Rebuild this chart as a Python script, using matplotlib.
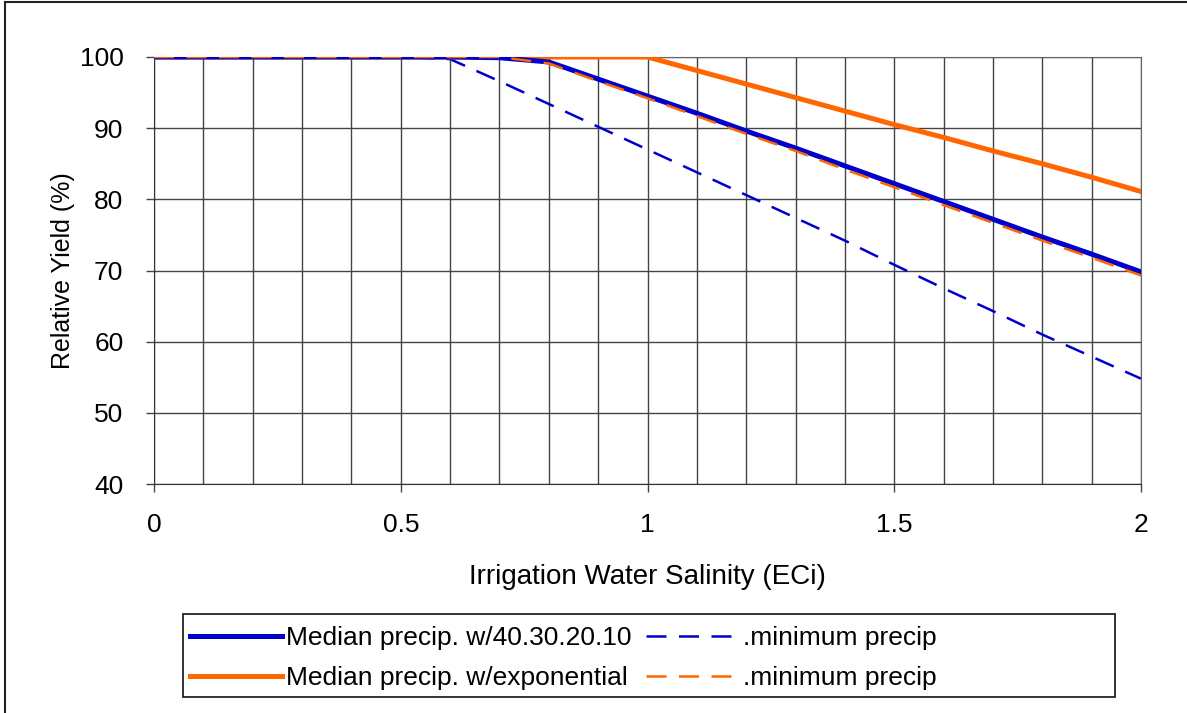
#!/usr/bin/env python3

import matplotlib
matplotlib.use("Agg")
import matplotlib.pyplot as plt
from matplotlib.patches import Rectangle
from matplotlib.ticker import MultipleLocator

plt.rcParams['font.family'] = ['Liberation Sans', 'DejaVu Sans']

salinity = [0.0, 0.1, 0.2, 0.3, 0.4, 0.5, 0.6, 0.7, 0.8, 0.9, 1.0,
            1.1, 1.2, 1.3, 1.4, 1.5, 1.6, 1.7, 1.8, 1.9, 2.0]

median_4321 = [100, 100, 100, 100, 100, 100, 100, 99.9, 99.3, 96.9, 94.5,
               92.1, 89.6, 87.2, 84.7, 82.2, 79.7, 77.2, 74.7, 72.3, 69.8]
minimum_4321 = [100, 100, 100, 100, 100, 100, 99.7, 96.6, 93.4, 90.2, 87.0,
                83.8, 80.6, 77.4, 74.2, 70.8, 67.5, 64.3, 61.0, 57.9, 54.8]
median_exp = [100, 100, 100, 100, 100, 100, 100, 100, 100, 100, 100,
              98.1, 96.2, 94.3, 92.4, 90.5, 88.7, 86.8, 85.0, 83.1, 81.1]
minimum_exp = [100, 100, 100, 100, 100, 100, 100, 100, 99.1, 96.6, 94.2,
               91.7, 89.2, 86.8, 84.2, 81.7, 79.2, 76.7, 74.2, 71.8, 69.3]

x_ticks = [0, 0.5, 1, 1.5, 2]
x_tick_labels = ["0", "0.5", "1", "1.5", "2"]
y_ticks = [40, 50, 60, 70, 80, 90, 100]

BLUE = "#0000CC"
ORANGE = "#FF6600"
W, H = 1187, 713


def main():
    fig = plt.figure(figsize=(W / 100, H / 100), dpi=100)
    ax = fig.add_axes([154 / W, 1 - 484 / H, 987 / W, 427 / H])

    # outer chart frame (cut off on the right and bottom)
    fig.patches.append(Rectangle((5 / W, -0.05), 1.2, 1 - 2 / H + 0.05,
                                 transform=fig.transFigure, fill=False,
                                 edgecolor="#222222", linewidth=1.5))
    # legend box, wider than its entries as in the original
    fig.patches.append(Rectangle((183 / W, 1 - 697 / H), (1115 - 183) / W, 83 / H,
                                 transform=fig.transFigure, fill=False,
                                 edgecolor="#111111", linewidth=1.2))

    ax.plot(salinity, minimum_4321, color=BLUE, linewidth=1.8, dashes=(8, 5),
            label=".minimum precip", zorder=3)
    ax.plot(salinity, median_exp, color=ORANGE, linewidth=3.6,
            label="Median precip. w/exponential", zorder=3)
    ax.plot(salinity, median_4321, color=BLUE, linewidth=3.6,
            label="Median precip. w/40.30.20.10", zorder=4)
    ax.plot(salinity, minimum_exp, color=ORANGE, linewidth=1.8, dashes=(8, 5),
            label=".minimum precip", zorder=5)

    ax.set_xlim(0, 2)
    ax.set_ylim(40, 100)
    ax.set_xticks(x_ticks)
    ax.set_xticklabels(x_tick_labels)
    ax.set_yticks(y_ticks)
    ax.xaxis.set_minor_locator(MultipleLocator(0.1))
    ax.tick_params(which="major", direction="out", length=6, width=1,
                   color="#444444", labelsize=19)
    ax.tick_params(axis="x", which="major", pad=15)
    ax.tick_params(axis="y", which="major", pad=16)
    ax.tick_params(which="minor", length=0)
    ax.grid(True, which="both", color="#444444", linewidth=1)
    ax.set_axisbelow(True)
    for side in ["top", "right"]:
        ax.spines[side].set_color("#666666")
    for side in ["left", "bottom"]:
        ax.spines[side].set_color("#333333")

    ax.set_xlabel("Irrigation Water Salinity (ECi)", fontsize=20, labelpad=19)
    ax.set_ylabel("Relative Yield (%)", fontsize=18, labelpad=3)

    handles, labels = ax.get_legend_handles_labels()
    order = [2, 1, 0, 3]
    fig.legend([handles[i] for i in order], [labels[i] for i in order],
               ncol=2, loc="upper left", bbox_to_anchor=(190 / W, 1 - 626 / H),
               fontsize=19, frameon=False,
               handlelength=3.5, handletextpad=0.15, columnspacing=0.55,
               labelspacing=0.62, borderpad=0, borderaxespad=0)

    fig.savefig("out.png", dpi=100)


if __name__ == '__main__':
    main()
